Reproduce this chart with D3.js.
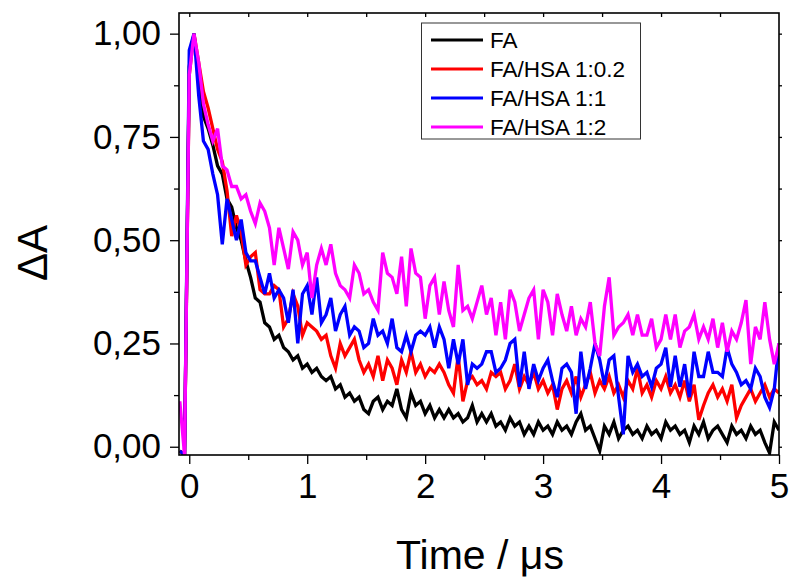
<!DOCTYPE html>
<html>
<head>
<meta charset="utf-8">
<script src="https://cdn.jsdelivr.net/npm/d3@7"></script>
<style>
  body { margin: 0; background: #fff; }
  svg { display: block; font-family: "Liberation Sans", Arial, sans-serif; }
</style>
</head>
<body>
<div id="chart"></div>
<script>
// time axis (µs)
const time = [-0.08,-0.04,0,0.04,0.08,0.12,0.16,0.2,0.24,0.28,0.32,0.36,0.4,0.44,0.48,0.52,0.56,0.6,0.64,0.68,
  0.72,0.76,0.8,0.84,0.88,0.92,0.96,1.0,1.04,1.08,1.12,1.16,1.2,1.24,1.28,1.32,1.36,1.4,1.44,1.48,
  1.52,1.56,1.6,1.64,1.68,1.72,1.76,1.8,1.84,1.88,1.92,1.96,2.0,2.04,2.08,2.12,2.16,2.2,2.24,2.28,
  2.32,2.36,2.4,2.44,2.48,2.52,2.56,2.6,2.64,2.68,2.72,2.76,2.8,2.84,2.88,2.92,2.96,3.0,3.04,3.08,
  3.12,3.16,3.2,3.24,3.28,3.32,3.36,3.4,3.44,3.48,3.52,3.56,3.6,3.64,3.68,3.72,3.76,3.8,3.84,3.88,
  3.92,3.96,4.0,4.04,4.08,4.12,4.16,4.2,4.24,4.28,4.32,4.36,4.4,4.44,4.48,4.52,4.56,4.6,4.64,4.68,
  4.72,4.76,4.8,4.84,4.88,4.92,4.96,5.0];

const fa = [-0.01,-0.02,0.92,1.0,0.9,0.8,0.77,0.73,0.68,0.66,0.6,0.58,0.53,0.5,0.45,0.41,0.36,0.35,0.3,0.29,
  0.26,0.27,0.24,0.23,0.21,0.22,0.19,0.2,0.18,0.19,0.17,0.16,0.17,0.14,0.15,0.12,0.13,0.11,0.12,0.09,
  0.08,0.11,0.12,0.09,0.11,0.1,0.14,0.09,0.07,0.13,0.1,0.11,0.08,0.1,0.07,0.09,0.07,0.09,0.07,0.08,
  0.06,0.07,0.1,0.06,0.08,0.06,0.08,0.05,0.06,0.04,0.07,0.05,0.06,0.03,0.05,0.03,0.06,0.04,0.05,0.03,
  0.06,0.04,0.05,0.03,0.06,0.08,0.04,0.05,0.02,-0.01,0.05,0.03,0.06,0.02,0.04,0.05,0.03,0.04,0.02,0.05,
  0.03,0.04,0.02,0.06,0.04,0.05,0.03,0.04,0.01,0.05,0.03,0.06,0.02,0.04,0.05,0.03,0.01,0.05,0.03,0.04,
  0.02,0.05,0.03,0.04,0.01,-0.015,0.06,0.04];

const hsa02 = [-0.01,-0.02,0.9,1.0,0.93,0.86,0.82,0.77,0.72,0.69,0.62,0.51,0.56,0.52,0.44,0.46,0.47,0.38,0.37,0.37,
  0.39,0.38,0.29,0.31,0.37,0.34,0.27,0.3,0.29,0.28,0.26,0.27,0.22,0.19,0.25,0.22,0.24,0.26,0.21,0.18,
  0.2,0.17,0.22,0.16,0.21,0.19,0.15,0.21,0.18,0.23,0.18,0.2,0.17,0.19,0.18,0.2,0.18,0.15,0.13,0.22,
  0.11,0.16,0.17,0.15,0.16,0.14,0.18,0.17,0.18,0.14,0.16,0.2,0.14,0.17,0.15,0.18,0.14,0.16,0.13,0.15,
  0.09,0.14,0.16,0.13,0.17,0.12,0.15,0.18,0.13,0.16,0.14,0.17,0.13,0.15,0.12,0.16,0.14,0.19,0.13,0.15,
  0.12,0.16,0.14,0.17,0.13,0.15,0.12,0.16,0.11,0.15,0.065,0.1,0.13,0.15,0.12,0.14,0.11,0.15,0.07,0.1,
  0.12,0.14,0.11,0.13,0.15,0.12,0.14,0.13];

const hsa1 = [-0.01,-0.02,0.96,1.0,0.85,0.74,0.72,0.66,0.61,0.49,0.6,0.55,0.5,0.55,0.47,0.45,0.45,0.41,0.37,0.42,
  0.36,0.38,0.36,0.3,0.38,0.25,0.37,0.39,0.32,0.41,0.3,0.32,0.36,0.28,0.32,0.34,0.27,0.29,0.28,0.24,
  0.25,0.31,0.27,0.28,0.25,0.31,0.24,0.23,0.27,0.23,0.27,0.28,0.27,0.29,0.24,0.29,0.26,0.19,0.26,0.2,
  0.26,0.15,0.2,0.19,0.2,0.23,0.23,0.18,0.19,0.21,0.25,0.26,0.145,0.23,0.14,0.2,0.16,0.19,0.21,0.16,
  0.12,0.19,0.2,0.18,0.08,0.23,0.14,0.19,0.25,0.21,0.15,0.21,0.22,0.12,0.03,0.22,0.18,0.2,0.17,0.18,
  0.145,0.19,0.2,0.24,0.145,0.22,0.145,0.2,0.12,0.23,0.17,0.17,0.23,0.18,0.18,0.17,0.24,0.2,0.18,0.15,
  0.16,0.14,0.19,0.17,0.12,0.095,0.14,0.25];

const hsa2 = [0.11,-0.02,0.9,1.0,0.93,0.83,0.78,0.74,0.77,0.68,0.67,0.63,0.63,0.6,0.61,0.57,0.54,0.59,0.57,0.53,
  0.44,0.53,0.48,0.43,0.52,0.5,0.44,0.47,0.36,0.44,0.48,0.44,0.49,0.42,0.39,0.38,0.36,0.44,0.42,0.37,
  0.38,0.35,0.33,0.47,0.42,0.41,0.37,0.46,0.34,0.48,0.42,0.41,0.31,0.39,0.41,0.32,0.4,0.33,0.29,0.44,
  0.33,0.34,0.31,0.35,0.39,0.32,0.36,0.27,0.35,0.26,0.38,0.35,0.28,0.32,0.36,0.38,0.26,0.38,0.35,0.27,
  0.37,0.32,0.28,0.34,0.27,0.31,0.29,0.35,0.25,0.22,0.34,0.41,0.27,0.29,0.3,0.32,0.27,0.32,0.27,0.27,
  0.31,0.24,0.26,0.32,0.26,0.32,0.24,0.28,0.29,0.32,0.26,0.29,0.26,0.31,0.24,0.3,0.23,0.28,0.26,0.3,
  0.355,0.2,0.29,0.26,0.35,0.26,0.2,0.25];

const seriesNames = ["FA", "FA/HSA 1:0.2", "FA/HSA 1:1", "FA/HSA 1:2"];
const seriesColors = ["#000000", "#ff0000", "#0000ff", "#ff00ff"];
const seriesValues = [fa, hsa02, hsa1, hsa2];

const xTicks = [0, 1, 2, 3, 4, 5];
const yTicks = [0, 0.25, 0.5, 0.75, 1.0];

const W = 790, H = 579;
const plot = {left: 179, right: 779, top: 13, bottom: 455};

const svg = d3.select("#chart").append("svg")
  .attr("width", W).attr("height", H);

const x = d3.scaleLinear().domain([-0.087, 5.0]).range([plot.left, plot.right]);
const y = d3.scaleLinear().domain([-0.02, 1.05]).range([plot.bottom, plot.top]);

svg.append("clipPath").attr("id", "plot-clip")
  .append("rect")
  .attr("x", plot.left).attr("y", plot.top)
  .attr("width", plot.right - plot.left).attr("height", plot.bottom - plot.top);

// data lines
const line = d3.line()
  .x((d, i) => x(time[i]))
  .y(d => y(d));

svg.append("g").attr("clip-path", "url(#plot-clip)")
  .selectAll("path")
  .data(seriesValues)
  .join("path")
  .attr("fill", "none")
  .attr("stroke", (d, i) => seriesColors[i])
  .attr("stroke-width", 3.3)
  .attr("d", line);

// axes
const fmt = d => d3.format(".2f")(d).replace(".", ",");

svg.append("g")
  .attr("transform", `translate(0,${plot.bottom})`)
  .call(d3.axisBottom(x).tickValues(xTicks).tickSize(9).tickPadding(9).tickFormat(d3.format("d")));
svg.append("g")
  .attr("transform", `translate(0,${plot.bottom})`)
  .call(d3.axisBottom(x).tickValues([0.5, 1.5, 2.5, 3.5, 4.5]).tickSize(5).tickFormat(""));

svg.append("g")
  .attr("transform", `translate(${plot.left},0)`)
  .call(d3.axisLeft(y).tickValues(yTicks).tickSize(9).tickPadding(9).tickFormat(fmt));
svg.append("g")
  .attr("transform", `translate(${plot.left},0)`)
  .call(d3.axisLeft(y).tickValues([0.125, 0.375, 0.625, 0.875]).tickSize(5).tickFormat(""));

// top / right ticks
svg.append("g")
  .attr("transform", `translate(0,${plot.top})`)
  .call(d3.axisTop(x).tickValues([0, 0.5, 1, 1.5, 2, 2.5, 3, 3.5, 4, 4.5]).tickSize(-4).tickFormat(""));
svg.append("g")
  .attr("transform", `translate(${plot.right},0)`)
  .call(d3.axisRight(y).tickValues([0, 0.125, 0.25, 0.375, 0.5, 0.625, 0.75, 0.875, 1]).tickSize(3).tickFormat(""));

svg.selectAll(".domain").remove();
svg.selectAll(".tick line").attr("stroke", "#000").attr("stroke-width", 1.3);
svg.selectAll(".tick text")
  .attr("fill", "#000")
  .style("font-size", "35px")
  .style("font-family", "'Liberation Sans', Arial, sans-serif");

// frame
svg.append("rect")
  .attr("x", plot.left).attr("y", plot.top)
  .attr("width", plot.right - plot.left).attr("height", plot.bottom - plot.top)
  .attr("fill", "none").attr("stroke", "#000").attr("stroke-width", 1.6);

// axis titles
svg.append("text")
  .attr("x", 480).attr("y", 569)
  .attr("text-anchor", "middle")
  .style("font-size", "41px")
  .text("Time / μs");

svg.append("text")
  .attr("transform", "translate(47,253) rotate(-90)")
  .attr("text-anchor", "middle")
  .style("font-size", "42px")
  .text("ΔA");

// legend
const legend = svg.append("g");
legend.append("rect")
  .attr("x", 421.5).attr("y", 23)
  .attr("width", 219).attr("height", 116)
  .attr("fill", "#fff").attr("stroke", "#333").attr("stroke-width", 1);

const rows = legend.selectAll("g.row")
  .data(seriesNames)
  .join("g")
  .attr("class", "row")
  .attr("transform", (d, i) => `translate(0,${40 + i * 29})`);

rows.append("line")
  .attr("x1", 431).attr("x2", 483)
  .attr("stroke", (d, i) => seriesColors[i])
  .attr("stroke-width", 3);

rows.append("text")
  .attr("x", 490).attr("dy", "0.36em")
  .style("font-size", "22.5px")
  .text(d => d);
</script>
</body>
</html>
